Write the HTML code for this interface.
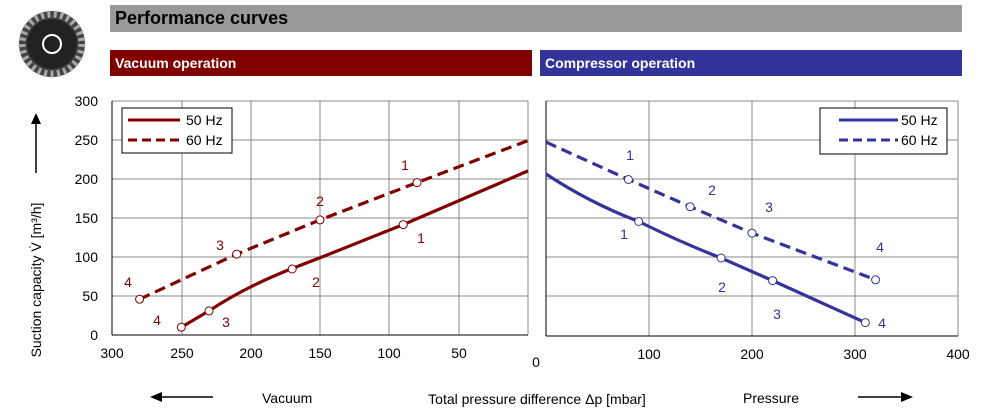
<!DOCTYPE html>
<html><head><meta charset="utf-8"><style>
body{margin:0;background:#fff;width:992px;height:410px;overflow:hidden}
svg{display:block;font-family:"Liberation Sans",Arial,sans-serif}
</style></head><body>
<svg width="992" height="410" viewBox="0 0 992 410" xmlns="http://www.w3.org/2000/svg">
<!-- logo -->
<circle cx="52" cy="44" r="33" fill="#444"/>
<circle cx="52" cy="44" r="30" fill="none" stroke="#aaa" stroke-width="7" stroke-dasharray="3 3.5"/>
<circle cx="52" cy="44" r="25" fill="#222"/>
<circle cx="52" cy="44" r="9" fill="none" stroke="#fff" stroke-width="2"/>
<!-- headers -->
<rect x="110" y="5" width="852" height="27" fill="#999"/>
<text x="115" y="24" font-size="18" font-weight="bold" fill="#000">Performance curves</text>
<rect x="110" y="50" width="422" height="26" fill="#800000"/>
<text x="115" y="68" font-size="14" font-weight="bold" fill="#fff">Vacuum operation</text>
<rect x="540" y="50" width="422" height="26" fill="#333399"/>
<text x="545" y="68" font-size="14" font-weight="bold" fill="#fff">Compressor operation</text>
<!-- left grid -->
<g stroke="#888" stroke-width="1">
<line x1="112" y1="101" x2="528" y2="101"/><line x1="112" y1="140" x2="528" y2="140"/><line x1="112" y1="179" x2="528" y2="179"/><line x1="112" y1="218" x2="528" y2="218"/><line x1="112" y1="257" x2="528" y2="257"/><line x1="112" y1="296" x2="528" y2="296"/>
<line x1="182" y1="101" x2="182" y2="335"/><line x1="251" y1="101" x2="251" y2="335"/><line x1="320" y1="101" x2="320" y2="335"/><line x1="389" y1="101" x2="389" y2="335"/><line x1="459" y1="101" x2="459" y2="335"/><line x1="528" y1="101" x2="528" y2="335"/>
</g>
<g stroke="#000"><line x1="112" y1="101" x2="112" y2="335"/><line x1="112" y1="335" x2="528" y2="335"/></g>
<!-- right grid -->
<g stroke="#888" stroke-width="1">
<line x1="546" y1="101" x2="958" y2="101"/><line x1="546" y1="140" x2="958" y2="140"/><line x1="546" y1="179" x2="958" y2="179"/><line x1="546" y1="218" x2="958" y2="218"/><line x1="546" y1="257" x2="958" y2="257"/><line x1="546" y1="296" x2="958" y2="296"/>
<line x1="649" y1="101" x2="649" y2="336"/><line x1="752" y1="101" x2="752" y2="336"/><line x1="855" y1="101" x2="855" y2="336"/><line x1="958" y1="101" x2="958" y2="336"/>
</g>
<g stroke="#000"><line x1="546" y1="101" x2="546" y2="336"/><line x1="546" y1="336" x2="958" y2="336"/></g>
<!-- y ticks -->
<g font-size="14" fill="#000" text-anchor="end">
<text x="98" y="106">300</text><text x="98" y="145">250</text><text x="98" y="184">200</text><text x="98" y="223">150</text><text x="98" y="262">100</text><text x="98" y="301">50</text><text x="98" y="340">0</text>
</g>
<g font-size="14" fill="#000" text-anchor="middle">
<text x="112" y="358">300</text><text x="182" y="358">250</text><text x="251" y="358">200</text><text x="320" y="358">150</text><text x="389" y="358">100</text><text x="459" y="358">50</text>
<text x="536" y="367">0</text>
<text x="649" y="359">100</text><text x="752" y="359">200</text><text x="855" y="359">300</text><text x="958" y="359">400</text>
</g>
<!-- y title -->
<text transform="translate(41,280) rotate(-90)" font-size="14" text-anchor="middle">Suction capacity V̇ [m³/h]</text>
<line x1="36" y1="173" x2="36" y2="122" stroke="#000" stroke-width="1.5"/>
<polygon points="36,113 31,124 41,124" fill="#000"/>
<!-- bottom -->
<line x1="160" y1="397" x2="213" y2="397" stroke="#000" stroke-width="1.5"/>
<polygon points="150,397 162,392 162,402" fill="#000"/>
<text x="262" y="403" font-size="14">Vacuum</text>
<text x="537" y="404" font-size="14" text-anchor="middle">Total pressure difference Δp [mbar]</text>
<text x="743" y="403" font-size="14">Pressure</text>
<line x1="858" y1="397" x2="903" y2="397" stroke="#000" stroke-width="1.5"/>
<polygon points="913,397 901,392 901,402" fill="#000"/>
<!-- left series -->
<g fill="none" stroke="#800000" stroke-width="3.2">
<path d="M181.3,327.2 L209,310.9 Q245,287 292.2,268.5 L320,257.8 L403.2,224.6 Q460,200 528,170.9"/>
<path d="M139.6,299.2 L236.7,254.1 L320,219.9 L417,182.6 L528,140.6" stroke-dasharray="11 6"/>
</g>
<g fill="#fff" stroke="#800000" stroke-width="1">
<circle cx="181.3" cy="327.2" r="4"/><circle cx="209" cy="310.9" r="4"/><circle cx="292.2" cy="269" r="4"/><circle cx="403.2" cy="224.6" r="4"/>
<circle cx="139.6" cy="299.2" r="4"/><circle cx="236.7" cy="254.1" r="4"/><circle cx="320" cy="219.9" r="4"/><circle cx="417" cy="182.6" r="4"/>
</g>
<g font-size="14" fill="#800000" text-anchor="middle">
<text x="405" y="170">1</text><text x="320" y="206">2</text><text x="220" y="250">3</text><text x="128" y="287">4</text>
<text x="421" y="243">1</text><text x="316" y="287">2</text><text x="226" y="327">3</text><text x="157" y="325">4</text>
</g>
<!-- right series -->
<g fill="none" stroke="#333399" stroke-width="3.2">
<path d="M546,174 Q590,203 638.7,221.5 Q680,242 721.1,258 L772.6,280.6 L865.3,322.6"/>
<path d="M546,142.1 L628.4,179.5 L690.2,206.7 L752,233.1 L875.6,279.8" stroke-dasharray="11 6"/>
</g>
<g fill="#fff" stroke="#333399" stroke-width="1">
<circle cx="638.7" cy="221.5" r="4"/><circle cx="721.1" cy="258" r="4"/><circle cx="772.6" cy="280.6" r="4"/><circle cx="865.3" cy="322.6" r="4"/>
<circle cx="628.4" cy="179.5" r="4"/><circle cx="690.2" cy="206.7" r="4"/><circle cx="752" cy="233.1" r="4"/><circle cx="875.6" cy="279.8" r="4"/>
</g>
<g font-size="14" fill="#333399" text-anchor="middle">
<text x="630" y="160">1</text><text x="712" y="195">2</text><text x="769" y="212">3</text><text x="880" y="252">4</text>
<text x="624" y="239">1</text><text x="722" y="292">2</text><text x="777" y="319">3</text><text x="882" y="328">4</text>
</g>
<!-- legends -->
<rect x="122" y="108" width="110" height="45" fill="#fff" stroke="#000"/>
<line x1="128" y1="120" x2="180" y2="120" stroke="#800000" stroke-width="3"/>
<line x1="128" y1="140" x2="180" y2="140" stroke="#800000" stroke-width="3" stroke-dasharray="9 5"/>
<text x="186" y="125" font-size="14">50 Hz</text><text x="186" y="145" font-size="14">60 Hz</text>
<rect x="820" y="108" width="127" height="46" fill="#fff" stroke="#000"/>
<line x1="839" y1="120" x2="898" y2="120" stroke="#333399" stroke-width="3"/>
<line x1="839" y1="140" x2="898" y2="140" stroke="#333399" stroke-width="3" stroke-dasharray="9 5"/>
<text x="901" y="125" font-size="14">50 Hz</text><text x="901" y="145" font-size="14">60 Hz</text>
</svg>
</body></html>
